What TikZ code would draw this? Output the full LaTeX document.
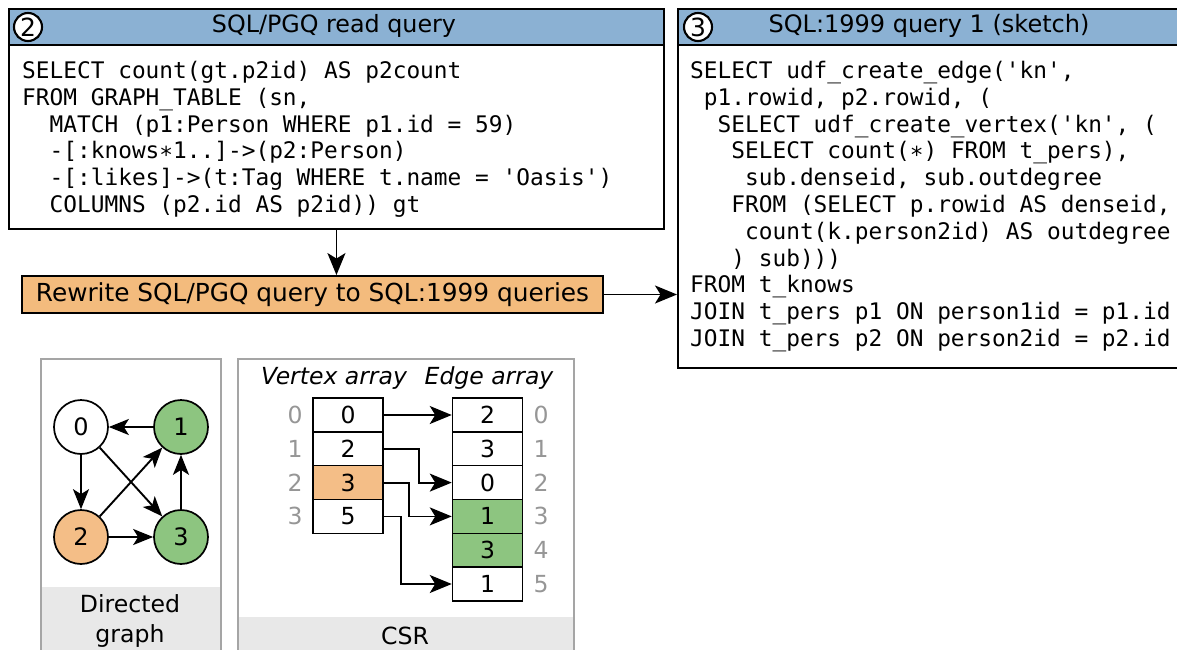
\documentclass[tikz,border=0pt]{standalone}
\usepackage{fontspec}
\setmainfont{DejaVu Sans}
\setmonofont{DejaVu Sans Mono}
\usetikzlibrary{arrows.meta}

\definecolor{hdrblue}{RGB}{139,177,211}
\definecolor{rworange}{RGB}{243,187,125}
\definecolor{vgreen}{RGB}{141,197,128}
\definecolor{vorange}{RGB}{244,190,135}
\definecolor{panelgray}{RGB}{165,165,165}
\definecolor{footgray}{RGB}{232,232,232}
\definecolor{idxgray}{RGB}{150,150,150}

\newcommand{\ind}[1]{\phantom{#1}}

\tikzset{
  qbox/.style={draw=black, line width=1.9pt, anchor=north west, inner sep=0pt},
  qhead/.style={qbox, fill=hdrblue},
  htext/.style={font=\fontsize{23.8}{26}\selectfont, inner sep=0pt},
  code/.style={font=\ttfamily\fontsize{22.8}{26.8}\selectfont, align=left,
               anchor=north west, inner sep=0pt},
  badge/.style={circle, draw=black, line width=2.1pt, fill=white, inner sep=0pt,
                minimum size=28pt, font=\fontsize{25}{25}\selectfont},
  arr/.style={-{Stealth[length=22pt,width=18pt,inset=5.5pt]}, line width=1.8pt},
  garr/.style={-{Stealth[length=20pt,width=16pt,inset=5pt]}, line width=1.9pt},
  vtx/.style={circle, draw=black, line width=1.7pt, minimum size=54pt, inner sep=0pt,
              font=\fontsize{24}{24}\selectfont},
  cell/.style={rectangle, draw=black, line width=1.5pt, minimum width=70pt,
               minimum height=33.8pt, inner sep=0pt, font=\fontsize{23.5}{23.5}\selectfont},
  idx/.style={text=idxgray, inner sep=0pt, font=\fontsize{23.5}{23.5}\selectfont},
  panel/.style={draw=panelgray, line width=1.5pt, anchor=north west, inner sep=0pt},
  ptext/.style={inner sep=0pt, align=center, font=\fontsize{23.6}{30}\selectfont},
  ahead/.style={inner sep=0pt, font=\itshape\fontsize{23.5}{24}\selectfont},
}

\begin{document}
\begin{tikzpicture}[x=1pt,y=-1pt]
\useasboundingbox (0,0) rectangle (1177,650);
\clip (0,0) rectangle (1177,650);

% ---- SQL/PGQ read query ----
\node[qbox, minimum width=655pt, minimum height=220pt] (pgq) at (8,8) {};
\node[qhead, minimum width=655pt, minimum height=36pt] (pgqhead) at (8,8) {};
\node[htext] (pgqtitle) at (334,26) {SQL/PGQ read query};
\node[badge] (badgetwo) at (28,27) {2};
\node[code] (pgqcode) at (22,61) {%
SELECT count(gt.p2id) AS p2count\\
FROM GRAPH\_TABLE (sn,\\
\ind{MM}MATCH (p1:Person WHERE p1.id = 59)\\
\ind{MM}-[:knows∗1..]->(p2:Person)\\
\ind{MM}-[:likes]->(t:Tag WHERE t.name = 'Oasis')\\
\ind{MM}COLUMNS (p2.id AS p2id)) gt};

% ---- SQL:1999 query ----
\node[qbox, minimum width=503pt, minimum height=359pt] (sql) at (677,8) {};
\node[qhead, minimum width=503pt, minimum height=36pt] (sqlhead) at (677,8) {};
\node[htext, font=\fontsize{24}{26}\selectfont] (sqltitle) at (929,26) {SQL:1999 query 1 (sketch)};
\node[badge] (badgethree) at (698,27) {3};
\node[code] (sqlcode) at (690,61) {%
SELECT udf\_create\_edge('kn',\\
\ind{M}p1.rowid, p2.rowid, (\\
\ind{MM}SELECT udf\_create\_vertex('kn', (\\
\ind{MMM}SELECT count(∗) FROM t\_pers),\\
\ind{MMMM}sub.denseid, sub.outdegree\\
\ind{MMM}FROM (SELECT p.rowid AS denseid,\\
\ind{MMMM}count(k.person2id) AS outdegree\\
\ind{MMM}) sub)))\\
FROM t\_knows\\
JOIN t\_pers p1 ON person1id = p1.id\\
JOIN t\_pers p2 ON person2id = p2.id};

% ---- rewrite step ----
\node[draw=black, line width=1.9pt, fill=rworange, minimum width=581pt, minimum height=37pt,
      inner sep=0pt, font=\fontsize{24.8}{26}\selectfont] (rewrite) at (312.5,294.5)
      {Rewrite SQL/PGQ query to SQL:1999 queries};
\draw[arr] (pgq.south) -- (pgq.south |- rewrite.north);
\draw[arr] (rewrite.east) -- (rewrite.east -| sql.west);

% ---- directed graph panel ----
\fill[footgray] (40,587) rectangle (220,660);
\node[panel, minimum width=180pt, minimum height=302pt] (gpanel) at (40,358) {};
\node[ptext] (glabel) at (130,621) {Directed\\graph};
\node[vtx, fill=white]   (n0) at (81,427) {0};
\node[vtx, fill=vgreen]  (n1) at (181,427) {1};
\node[vtx, fill=vorange] (n2) at (81,537) {2};
\node[vtx, fill=vgreen]  (n3) at (181,537) {3};
\draw[garr] (n1) -- (n0);
\draw[garr] (n0) -- (n2);
\draw[garr] (n0) -- (n3);
\draw[garr] (n2) -- (n1);
\draw[garr] (n2) -- (n3);
\draw[garr] (n3) -- (n1);

% ---- CSR panel ----
\fill[footgray] (237,617) rectangle (573,660);
\node[panel, minimum width=336pt, minimum height=302pt] (cpanel) at (237,358) {};
\node[ptext] (clabel) at (405,636) {CSR};
\node[ahead] (vhead) at (334,378) {Vertex array};
\node[ahead] (ehead) at (489,378) {Edge array};

\node[cell, fill=white]   (v0) at (348,415) {0};
\node[cell, fill=white]   (v1) at (348,448.8) {2};
\node[cell, fill=vorange] (v2) at (348,482.6) {3};
\node[cell, fill=white]   (v3) at (348,516.4) {5};
\foreach \i/\y in {0/415,1/448.8,2/482.6,3/516.4}
  \node[idx] (vi\i) at (295,\y) {\i};

\node[cell, fill=white]  (e0) at (487.5,415) {2};
\node[cell, fill=white]  (e1) at (487.5,448.8) {3};
\node[cell, fill=white]  (e2) at (487.5,482.6) {0};
\node[cell, fill=vgreen] (e3) at (487.5,516.4) {1};
\node[cell, fill=vgreen] (e4) at (487.5,550.2) {3};
\node[cell, fill=white]  (e5) at (487.5,584) {1};
\foreach \i/\y in {0/415,1/448.8,2/482.6,3/516.4,4/550.2,5/584}
  \node[idx] (ei\i) at (541,\y) {\i};

\draw[arr] (v0.east) -- (e0.west);
\draw[arr] (v1.east) -- ++(35,0) |- (e2.west);
\draw[arr] (v2.east) -- ++(25,0) |- (e3.west);
\draw[arr] (v3.east) -- ++(17,0) |- (e5.west);
\end{tikzpicture}
\end{document}
